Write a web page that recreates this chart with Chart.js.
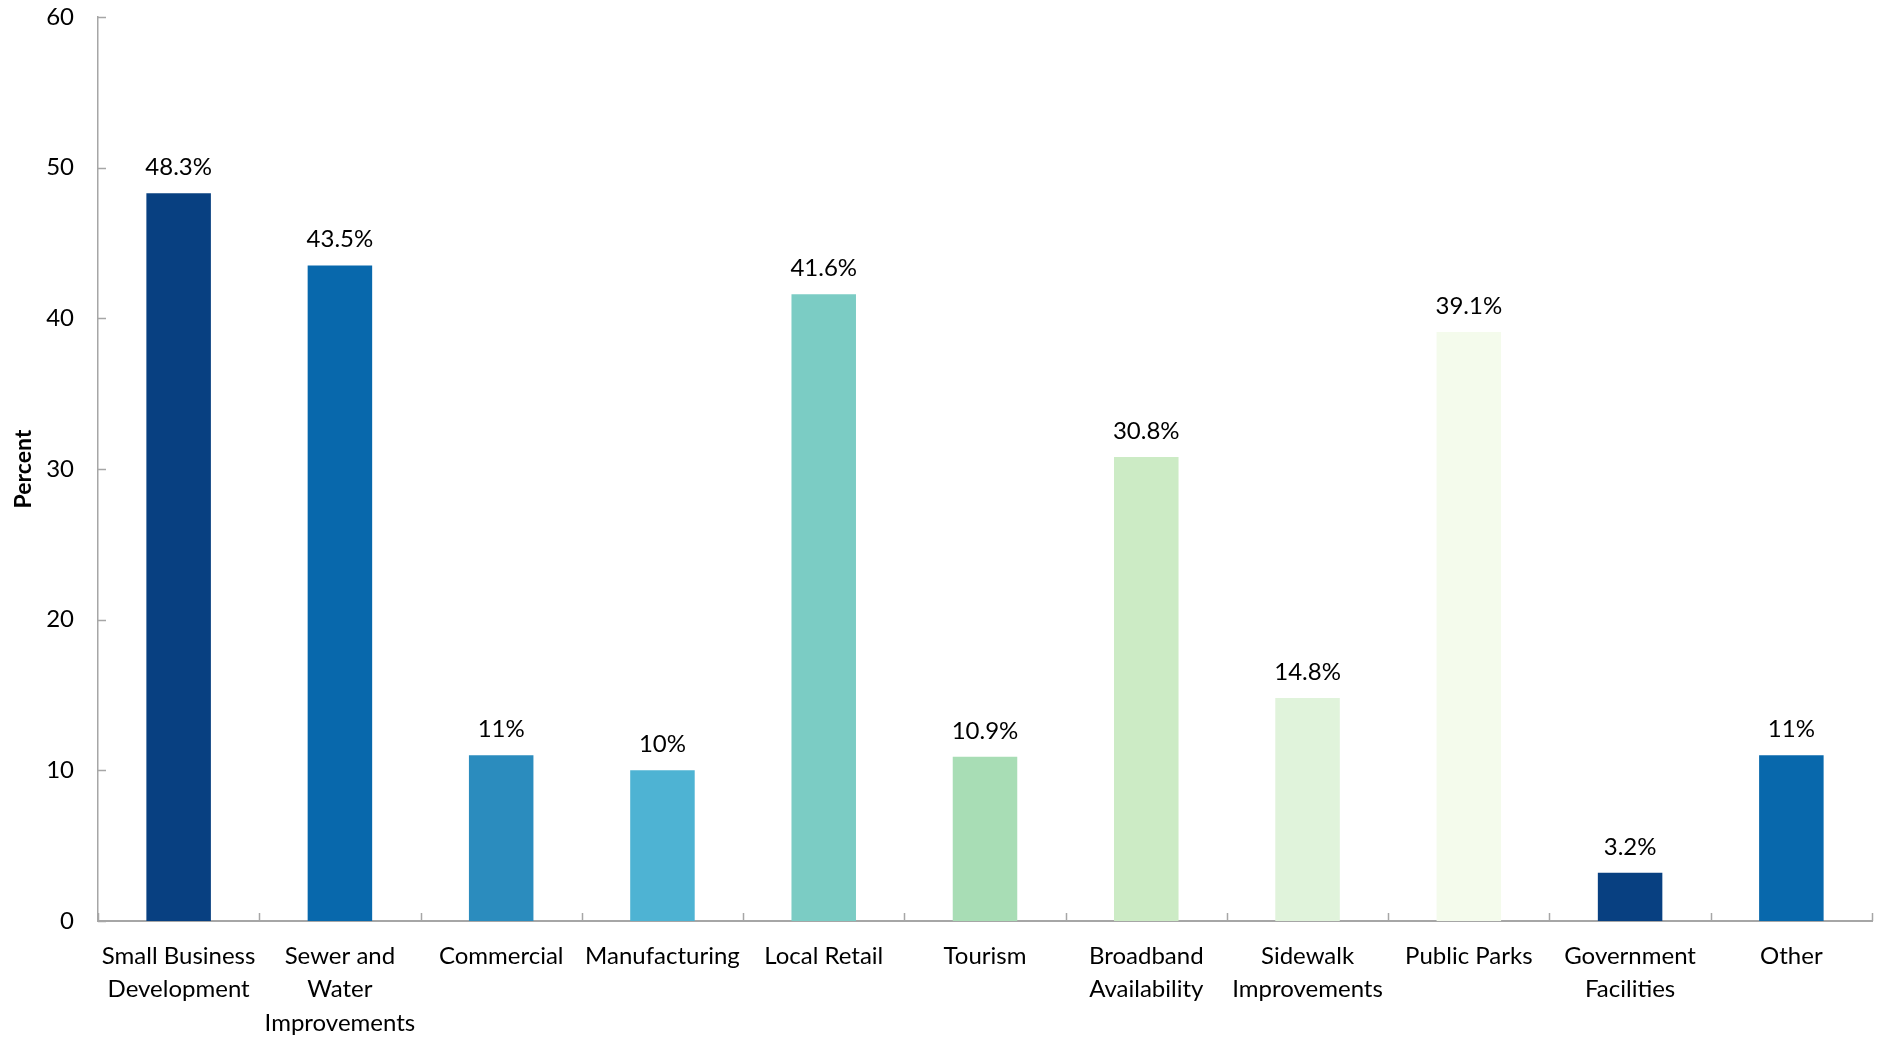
<!DOCTYPE html>
<html>
<head>
<meta charset="utf-8">
<script src="https://cdn.jsdelivr.net/npm/chart.js@4/dist/chart.umd.min.js"></script>
<style>
  html, body { margin: 0; padding: 0; background: #fff; }
  #wrap { width: 1884px; height: 1038px; }
</style>
</head>
<body>
<div id="wrap"><canvas id="chart"></canvas></div>
<script>
const categories = [
    ['Small Business', 'Development'],
    ['Sewer and', 'Water', 'Improvements'],
    'Commercial',
    'Manufacturing',
    'Local Retail',
    'Tourism',
    ['Broadband', 'Availability'],
    ['Sidewalk', 'Improvements'],
    'Public Parks',
    ['Government', 'Facilities'],
    'Other'
];
const percents = [48.3, 43.5, 11, 10, 41.6, 10.9, 30.8, 14.8, 39.1, 3.2, 11];
const barColors = ['#084081', '#0868ac', '#2b8cbe', '#4eb3d3', '#7bccc4', '#a8ddb5',
    '#ccebc5', '#e0f3db', '#f4fbec', '#084081', '#0868ac'];
const yTicks = [0, 10, 20, 30, 40, 50, 60];

const fontFamily = 'Lato, "Noto Sans", sans-serif';
const axisColor = '#a6a6a6';

// value labels over bars + small inward tick marks
const extras = {
    id: 'extras',
    afterDatasetsDraw(chart) {
        const ctx = chart.ctx;
        const meta = chart.getDatasetMeta(0);
        ctx.save();
        ctx.fillStyle = '#000';
        ctx.font = '24px ' + fontFamily;
        ctx.textAlign = 'center';
        ctx.textBaseline = 'middle';
        meta.data.forEach(function (bar, i) {
            ctx.fillText(percents[i] + '%', bar.x, bar.y - 26);
        });

        const x = chart.scales.x;
        const y = chart.scales.y;
        ctx.strokeStyle = axisColor;
        ctx.lineWidth = 1.5;
        ctx.beginPath();
        yTicks.forEach(function (v) {
            const py = Math.round(y.getPixelForValue(v)) + 0.5;
            ctx.moveTo(x.left, py);
            ctx.lineTo(x.left + 8, py);
        });
        const step = x.getPixelForValue(1) - x.getPixelForValue(0);
        for (let k = 0; k <= categories.length; k++) {
            const px = Math.round(x.getPixelForValue(k) - step / 2) + 0.5;
            ctx.moveTo(px, y.bottom);
            ctx.lineTo(px, y.bottom - 8);
        }
        ctx.stroke();
        ctx.restore();
    }
};

const ctx = document.getElementById('chart');

new Chart(ctx, {
    type: 'bar',
    data: {
        labels: categories,
        datasets: [{
            label: 'Percent',
            data: percents,
            backgroundColor: barColors,
            barPercentage: 0.4,
            categoryPercentage: 1
        }]
    },
    options: {
        responsive: true,
        maintainAspectRatio: false,
        animation: false,
        layout: { padding: { left: 8, right: 12, top: 17, bottom: 0 } },
        plugins: {
            legend: { display: false },
            tooltip: { enabled: false }
        },
        scales: {
            x: {
                grid: { display: false, drawTicks: false },
                border: { display: true, color: axisColor, width: 2 },
                ticks: {
                    color: '#000',
                    font: { family: fontFamily, size: 24, lineHeight: 1.4 },
                    padding: 18,
                    maxRotation: 0,
                    autoSkip: false
                },
                afterFit(scale) {
                    scale.height = 117;
                    scale.paddingTop = 0;
                    scale.paddingBottom = 0;
                }
            },
            y: {
                min: 0,
                max: 60,
                grid: { display: false, drawTicks: false },
                border: { display: true, color: axisColor, width: 1.5 },
                ticks: {
                    stepSize: 10,
                    color: '#000',
                    font: { family: fontFamily, size: 24 },
                    padding: 24
                },
                title: {
                    display: true,
                    text: 'Percent',
                    color: '#000',
                    font: { family: fontFamily, size: 23, weight: 'bold' },
                    padding: 2
                },
                afterFit(scale) {
                    scale.width = 90;
                    scale.paddingTop = 0;
                    scale.paddingBottom = 0;
                }
            }
        }
    },
    plugins: [extras]
});
</script>
</body>
</html>
